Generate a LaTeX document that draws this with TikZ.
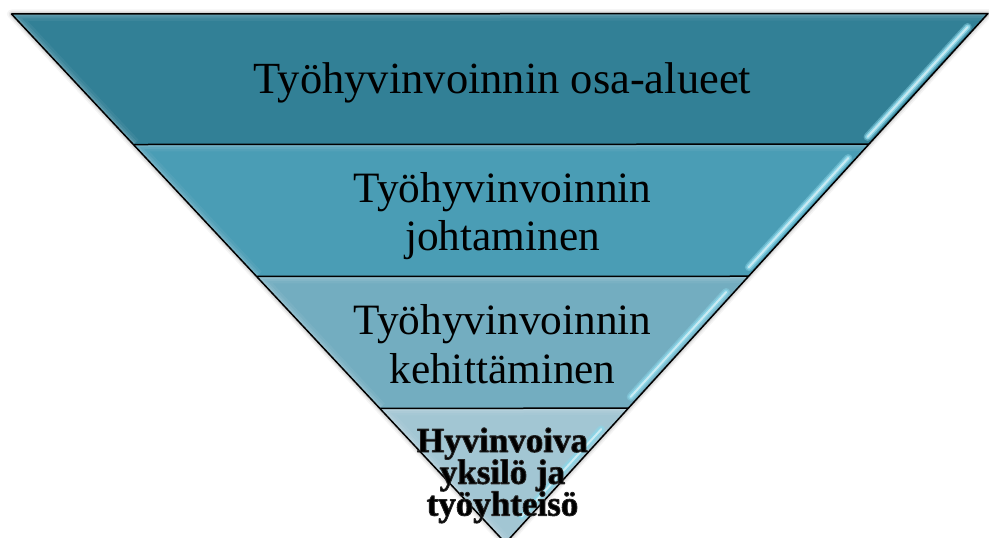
\documentclass[tikz,border=0pt]{standalone}
\usepackage{fontspec}
\setmainfont{Liberation Serif}
\usetikzlibrary{calc}

\definecolor{bandA}{RGB}{50,128,150}
\definecolor{bandB}{RGB}{74,157,181}
\definecolor{bandC}{RGB}{115,173,192}
\definecolor{bandD}{RGB}{162,198,211}
\definecolor{gloss}{RGB}{140,214,232}

% stacked, centred lines with a fixed baseline distance; the box's
% baseline is that of its first line
\newcommand{\linestack}[3]{%
  \vtop{\baselineskip=#2\lineskiplimit=-40pt\lineskip=0pt
    \def\ln##1{\hbox to #1{\hss##1\hss}}#3}}

% glyphs filled black and rimmed with a thin dark stroke
\newcommand{\rimmed}[1]{%
  \special{pdf:literal 2 Tr 0.9 w 1 j 0.15 0.15 0.15 RG}#1\special{pdf:literal 0 Tr 0 G}}

\tikzset{
  bandfill/.style={fill=#1, draw=none},
  edgeline/.style={draw=black, line width=1.5pt, line join=round},
  bigtext/.style={anchor=base, inner sep=0pt, text=black,
    font=\fontsize{43.3}{48.5}\selectfont},
  toptext/.style={anchor=base, inner sep=0pt, text=black,
    font=\fontsize{44.5}{50}\selectfont},
  coretext/.style={anchor=base, inner sep=0pt, text=black,
    font=\fontsize{35}{32}\selectfont\bfseries},
  glosshalo/.style={line cap=round, line width=8pt, draw=gloss, opacity=0.45},
  glossline/.style={line cap=round, line width=5pt, draw=gloss, opacity=0.9},
  glosscore/.style={line cap=round, line width=2pt, draw=white, opacity=0.55},
}

\newcommand{\bevel}[3]{%
  % light inner rim along the upper and left edges of a band
  \foreach \w/\o in {14/0.05, 9/0.07, 5/0.1, 2/0.14}
    \draw[white, opacity=\o, line width=\w pt] (#1)--(#2)--(#3);
}

\begin{document}
\begin{tikzpicture}[x=1pt,y=-1pt]
\useasboundingbox (0,0) rectangle (989,538);
\clip (0,0) rectangle (989,538);

% corners of the funnel and the band boundaries
\coordinate (TL) at (11.5,14);
\coordinate (TR) at (988,13.5);
\coordinate (A)  at (505.5,543);
\coordinate (L1) at ($(TL)!0.2467!(A)$);
\coordinate (R1) at ($(TR)!0.2467!(A)$);
\coordinate (L2) at ($(TL)!0.4962!(A)$);
\coordinate (R2) at ($(TR)!0.4962!(A)$);
\coordinate (L3) at ($(TL)!0.7454!(A)$);
\coordinate (R3) at ($(TR)!0.7454!(A)$);

% soft drop shadow
\foreach \w/\o in {9/0.04, 6/0.06, 3.5/0.08}
  \draw[black, opacity=\o, line width=\w pt, line join=round, shift={(1.5,1.5)}]
    (TL)--(TR)--(A)--cycle;

% bands
\fill[bandfill=bandA] (TL)--(TR)--(R1)--(L1)--cycle;
\fill[bandfill=bandB] (L1)--(R1)--(R2)--(L2)--cycle;
\fill[bandfill=bandC] (L2)--(R2)--(R3)--(L3)--cycle;
\fill[bandfill=bandD] (L3)--(R3)--(A)--cycle;

% bevel rims
\begin{scope}
  \clip (TL)--(TR)--(R1)--(L1)--cycle;
  \bevel{L1}{TL}{TR}
\end{scope}
\begin{scope}
  \clip (L1)--(R1)--(R2)--(L2)--cycle;
  \bevel{L2}{L1}{R1}
\end{scope}
\begin{scope}
  \clip (L2)--(R2)--(R3)--(L3)--cycle;
  \bevel{L3}{L2}{R2}
\end{scope}
\begin{scope}
  \clip (L3)--(R3)--(A)--cycle;
  \bevel{A}{L3}{R3}
\end{scope}

% glossy streaks along the right edge
\foreach \ta/\tb in {0.0255/0.233, 0.273/0.479, 0.526/0.724, 0.785/0.95} {
  \coordinate (ga) at ($($(TR)!\ta!(A)$)+(-8,0)$);
  \coordinate (gb) at ($($(TR)!\tb!(A)$)+(-8,0)$);
  \draw[glosshalo] (ga)--(gb);
  \draw[glossline] (ga)--(gb);
  \draw[glosscore] (ga)--(gb);
}

% outlines
\draw[edgeline] (TL)--(TR)--(A)--cycle;
\draw[edgeline] (L1)--(R1);
\draw[edgeline] (L2)--(R2);
\draw[edgeline] (L3)--(R3);

% labels
\node[toptext] (osa) at (502.5,93) {Työhyvinvoinnin osa-alueet};

\node[bigtext] (joh) at (502.5,202)
  {\linestack{320pt}{48pt}{\ln{Työhyvinvoinnin}\ln{johtaminen}}};

\node[bigtext] (keh) at (502.5,334)
  {\linestack{320pt}{49pt}{\ln{Työhyvinvoinnin}\ln{kehittäminen}}};

\node[coretext] (hyv) at (502.5,452)
  {\linestack{190pt}{31.8pt}{\ln{\rimmed{Hyvinvoiva}}\ln{\rimmed{yksilö ja}}\ln{\rimmed{työyhteisö}}}};
\end{tikzpicture}
\end{document}
